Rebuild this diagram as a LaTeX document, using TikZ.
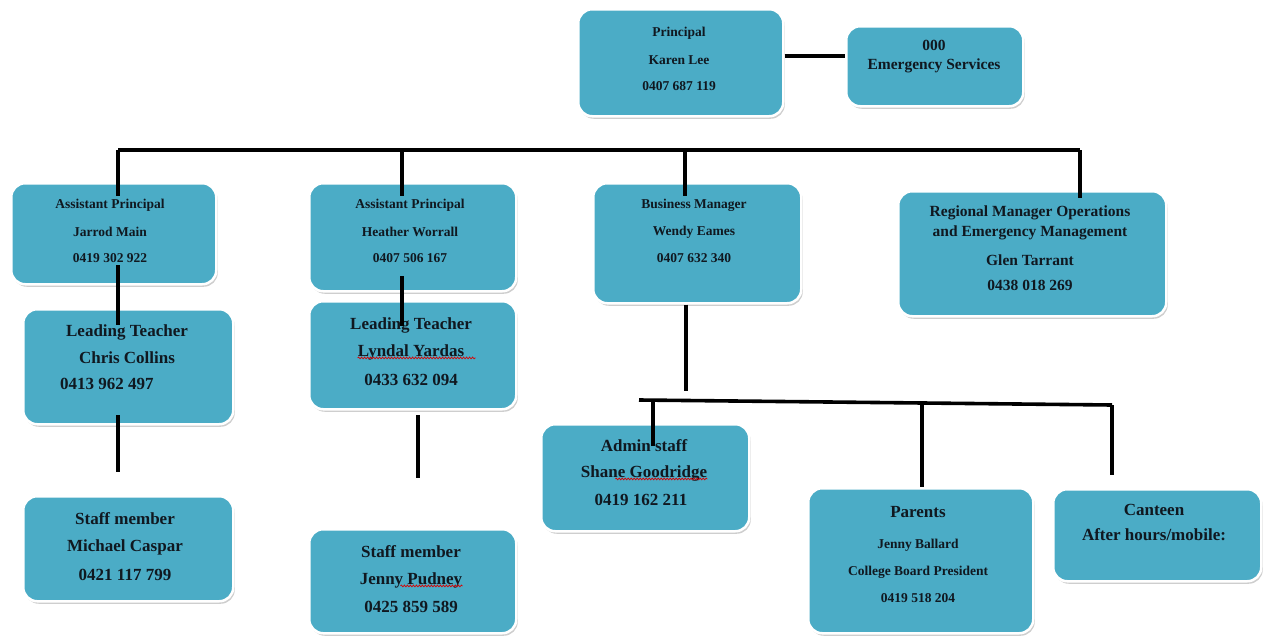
\documentclass[tikz,border=0pt]{standalone}
\usepackage{fontspec}
\setmainfont{Liberation Serif}
\usetikzlibrary{shadows,decorations.pathmorphing}
\definecolor{boxfill}{HTML}{4BACC6}
\definecolor{txt}{HTML}{101820}
\begin{document}
\begin{tikzpicture}[x=1pt,y=-1pt,
  box/.style={draw=white, line width=2.5pt, fill=boxfill, rounded corners=14pt, anchor=north west,
    drop shadow={shadow xshift=1.5pt, shadow yshift=-2.5pt, opacity=0.35, fill=black!55}},
  conn/.style={line width=3.6pt, draw=black},
  sm/.style={font=\bfseries\fontsize{13.5}{15}\selectfont, inner sep=0pt, text=txt},
  md/.style={font=\bfseries\fontsize{15.5}{17}\selectfont, inner sep=0pt, text=txt},
  lg/.style={font=\bfseries\fontsize{17}{20}\selectfont, inner sep=0pt, text=txt},
  spell/.style={draw=red!85!black, line width=0.7pt, decorate, decoration={snake, amplitude=0.9pt, segment length=3pt}}]
\useasboundingbox (0,0) rectangle (1264,637);

% ---------- boxes ----------
\node[box, minimum width=205pt, minimum height=107pt] (p)   at (577,8)   {};
\node[box, minimum width=177pt, minimum height=80pt]  (em)  at (845,25)  {};
\node[box, minimum width=205pt, minimum height=101pt] (ap1) at (10,182)  {};
\node[box, minimum width=207pt, minimum height=108pt] (ap2) at (308,182) {};
\node[box, minimum width=208pt, minimum height=120pt] (bm)  at (592,182) {};
\node[box, minimum width=268pt, minimum height=125pt] (rg)  at (897,190) {};
\node[box, minimum width=210pt, minimum height=115pt] (lt1) at (22,308)  {};
\node[box, minimum width=207pt, minimum height=108pt] (lt2) at (308,300) {};
\node[box, minimum width=210pt, minimum height=105pt] (s1)  at (22,495)  {};
\node[box, minimum width=207pt, minimum height=104pt] (s2)  at (308,528) {};
\node[box, minimum width=208pt, minimum height=107pt] (ad)  at (540,423) {};
\node[box, minimum width=225pt, minimum height=145pt] (pa)  at (807,487) {};
\node[box, minimum width=208pt, minimum height=92pt]  (ca)  at (1052,488) {};

% ---------- texts ----------
\node[sm] (p1) at (679,33) {Principal};
\node[sm] (p2) at (679,60) {Karen Lee};
\node[sm] (p3) at (679,86) {0407 687 119};

\node[md] (e1) at (934,45) {000};
\node[md] (e2) at (934,66) {Emergency Services};

\node[sm] (a11) at (110,205) {Assistant Principal};
\node[sm] (a12) at (110,232) {Jarrod Main};
\node[sm] (a13) at (110,258) {0419 302 922};

\node[sm] (a21) at (410,205) {Assistant Principal};
\node[sm] (a22) at (410,232) {Heather  Worrall};
\node[sm] (a23) at (410,258) {0407 506 167};

\node[sm] (b1) at (694,205) {Business Manager};
\node[sm] (b2) at (694,232) {Wendy Eames};
\node[sm] (b3) at (694,258) {0407 632 340};

\node[md] (r1) at (1030,213) {Regional Manager Operations};
\node[md] (r2) at (1030,233) {and Emergency Management};
\node[md] (r3) at (1030,260) {Glen Tarrant};
\node[md] (r4) at (1030,285) {0438 018 269};

\node[lg] (l11) at (127,332) {Leading Teacher};
\node[lg] (l12) at (127,358) {Chris Collins};
\node[lg, anchor=west] (l13) at (60,384) {0413 962 497};

\node[lg] (l21) at (411,325) {Leading Teacher};
\node[lg] (l22) at (411,352) {Lyndal Yardas};
\node[lg] (l23) at (411,380) {0433 632 094};

\node[lg] (s11) at (125,519) {Staff member};
\node[lg] (s12) at (125,547) {Michael Caspar};
\node[lg] (s13) at (125,575) {0421 117 799};

\node[lg] (s21) at (411,552) {Staff member};
\node[lg] (s22) at (411,580) {Jenny Pudney};
\node[lg] (s23) at (411,607) {0425 859 589};

\node[lg] (d1) at (644,446) {Admin staff};
\node[lg] (d2) at (644,473) {Shane Goodridge};
\node[lg] (d3) at (641,500) {0419 162 211};

\node[lg] (q1) at (918,512) {Parents};
\node[sm] (q2) at (918,545) {Jenny Ballard};
\node[sm] (q3) at (918,572) {College Board President};
\node[sm] (q4) at (918,598) {0419 518 204};

\node[lg] (c1) at (1154,510) {Canteen};
\node[lg] (c2) at (1154,535) {After hours/mobile:};

% spell-check underlines
\draw[spell] (l22.south west) ++(0,-2) -- ++(118,0);
\draw[spell] (s22.south east) ++(-62,-2) -- ++(62,0);
\draw[spell] (d2.south east) ++(-92,-2) -- ++(92,0);

% ---------- connectors ----------
\draw[conn] ([yshift=6.5pt]p.east) -- ([yshift=10pt]em.west);

\coordinate (t1) at (118,150);
\coordinate (t2) at (402,150);
\coordinate (t3) at (685,150);
\coordinate (t4) at (1080,150);
\draw[conn] (t1) -- (t4);
\draw[conn] (t1) -- ([yshift=-14pt]t1 |- ap1.north);
\draw[conn] (t2) -- ([yshift=-14pt]t2 |- ap2.north);
\draw[conn] (t3) -- ([yshift=-14pt]t3 |- bm.north);
\draw[conn] (t4) -- ([yshift=-8pt]t4 |- rg.north);

\coordinate (u1a) at (118,265);
\coordinate (u1b) at (118,325);
\draw[conn] (u1a) -- (u1b);
\coordinate (u2a) at (402,276);
\coordinate (u2b) at (402,326);
\draw[conn] (u2a) -- (u2b);

\coordinate (v1a) at (118,415);
\coordinate (v1b) at (118,472);
\draw[conn] (v1a) -- (v1b);
\coordinate (v2a) at (418,415);
\coordinate (v2b) at (418,478);
\draw[conn] (v2a) -- (v2b);

\coordinate (w0) at (686,391);
\draw[conn] (bm.south -| w0) -- (w0);

\coordinate (g0) at (639,400);
\coordinate (g1) at (653,400.3);
\coordinate (g2) at (922,403.5);
\coordinate (g3) at (1112,405);
\draw[conn] (g0) -- (g3);
\draw[conn] (g1) -- (653,446);
\draw[conn] (g2) -- (g2 |- pa.north);
\draw[conn] (g3) -- (1112,475);
\end{tikzpicture}
\end{document}
